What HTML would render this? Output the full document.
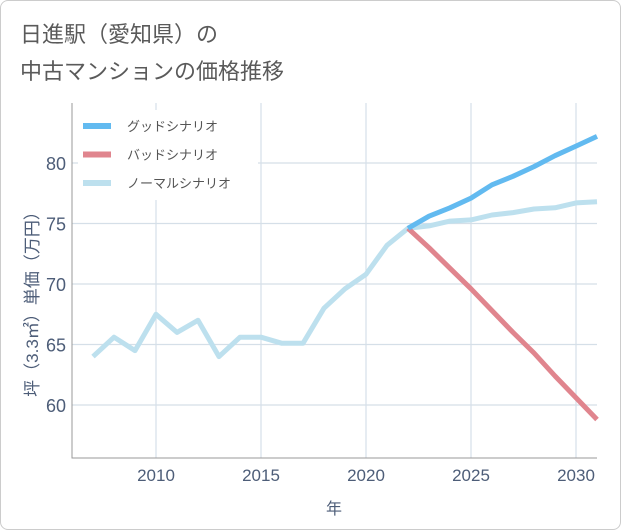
<!DOCTYPE html>
<html><head><meta charset="utf-8"><style>
body{margin:0;background:#fff;font-family:"Liberation Sans","Noto Sans CJK JP",sans-serif;}
.card{position:absolute;left:0;top:0;width:619px;height:528px;border:1px solid #ccc;border-radius:8px;background:#fff;}
.title{position:absolute;left:20px;top:16px;font-size:22px;line-height:37px;color:#5a5a5a;}
</style></head><body>
<div class="card"></div>
<div class="title">日進駅（愛知県）の<br>中古マンションの価格推移</div>
<svg width="621" height="530" style="position:absolute;left:0;top:0">
<g id="grid"></g><g id="axes"></g><g id="lines"></g><g id="legend"></g>
</svg>
<script>
const years=[2007,2008,2009,2010,2011,2012,2013,2014,2015,2016,2017,2018,2019,2020,2021,2022,2023,2024,2025,2026,2027,2028,2029,2030,2031];
const normal=[64,65.6,64.5,67.5,66,67,64,65.6,65.6,65.1,65.1,68,69.6,70.8,73.2,74.6,74.8,75.2,75.3,75.7,75.9,76.2,76.3,76.7,76.8];
const goodYears=[2022,2023,2024,2025,2026,2027,2028,2029,2030,2031];
const good=[74.6,75.6,76.3,77.1,78.2,78.9,79.7,80.6,81.4,82.2];
const bad=[74.6,73.0,71.3,69.6,67.8,66.0,64.3,62.4,60.6,58.8];
const xTicks=[2010,2015,2020,2025,2030];
const yTicks=[60,65,70,75,80];
const X0=72,X1=597,Y0=458,Y1=103;
const xs=y=>X0+(y-2006)/(2031-2006)*(X1-X0);
const ys=v=>405-(v-60)*12.1;
const NS="http://www.w3.org/2000/svg";
function mk(t,p,a){const e=document.createElementNS(NS,t);for(const k in a)e.setAttribute(k,a[k]);p.appendChild(e);return e;}
const grid=document.getElementById('grid'),axes=document.getElementById('axes'),lines=document.getElementById('lines'),leg=document.getElementById('legend');
xTicks.forEach(t=>{const l=mk('line',grid,{x1:xs(t),x2:xs(t),y1:Y1,y2:Y0,stroke:'#d5dfe8','stroke-width':1.2});

const tx=mk('text',axes,{x:xs(t),y:481,'text-anchor':'middle','font-size':17,fill:'#4d5d78'});tx.textContent=t;
});
yTicks.forEach(t=>{const l=mk('line',grid,{x1:X0,x2:X1,y1:ys(t),y2:ys(t),stroke:'#d5dfe8','stroke-width':1.2});

const tx=mk('text',axes,{x:66,y:ys(t)+7,'text-anchor':'end','font-size':18,fill:'#4d5d78'});tx.textContent=t;
});
const ax=mk('path',axes,{d:`M${X0} ${Y1}V${Y0}H${X1}`,fill:'none',stroke:'#999','stroke-width':1});

const xt=mk('text',axes,{x:334,y:514,'text-anchor':'middle','font-size':16,fill:'#4d5d78'});xt.textContent='年';

const yt=mk('text',axes,{x:0,y:0,'text-anchor':'middle','font-size':17,fill:'#4d5d78',transform:'translate(38,300) rotate(-90)'});yt.textContent='坪（3.3㎡）単価（万円）';

function series(xsArr,vals,color,name){const d=vals.map((v,i)=>(i?'L':'M')+xs(xsArr[i]).toFixed(1)+' '+ys(v).toFixed(1)).join('');
const p=mk('path',lines,{d,fill:'none',stroke:color,'stroke-width':5,'stroke-linejoin':'round'});
}
series(years,normal,'#bde0ee','normal-scenario-line');
series(goodYears,bad,'#e0858e','bad-scenario-line');
series(goodYears,good,'#62baf0','good-scenario-line');
const lb=mk('rect',leg,{x:78,y:110,width:180,height:90,fill:'#fff'});

[['グッドシナリオ','#62baf0'],['バッドシナリオ','#e0858e'],['ノーマルシナリオ','#bde0ee']].forEach((e,i)=>{
const y=126+i*28.5;
const l=mk('line',leg,{x1:83,x2:111,y1:y,y2:y,stroke:e[1],'stroke-width':6});

const t=mk('text',leg,{x:127,y:y+5,'font-size':13,fill:'#555'});t.textContent=e[0];
});
</script>
</body></html>
